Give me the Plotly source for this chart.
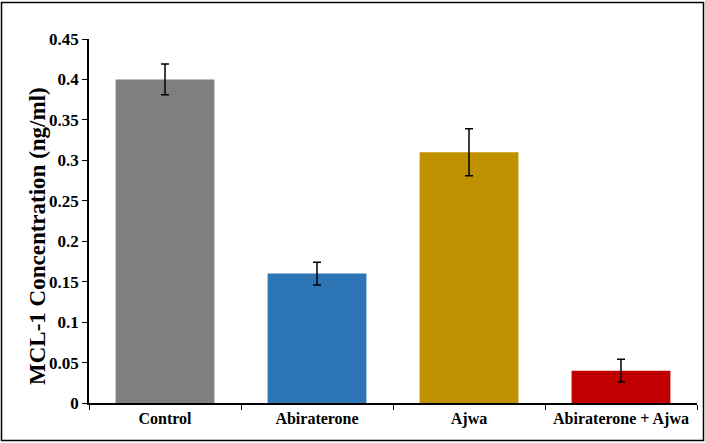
import plotly.graph_objects as go

categories = ["Control", "Abiraterone", "Ajwa", "Abiraterone + Ajwa"]
values = [0.40, 0.16, 0.31, 0.04]
errors = [0.019, 0.014, 0.029, 0.014]
colors = ["#7f7f7f", "#2e75b6", "#bf9000", "#c00000"]
y_title = "MCL-1 Concentration (ng/ml)"

L, R, T, B = 89, 8, 39, 40
W, H = 705, 443
pw, ph = W - L - R, H - T - B

fig = go.Figure(go.Bar(
    x=categories, y=values, marker=dict(color=colors, line=dict(width=0)),
    width=0.65,
    error_y=dict(type="data", array=errors, visible=True, color="black", thickness=1.5, width=4),
))

fig.update_layout(
    width=W, height=H, margin=dict(l=L, r=R, t=T, b=B),
    plot_bgcolor="white", paper_bgcolor="white", showlegend=False,
    font=dict(family="Liberation Serif", color="black"),
    xaxis=dict(type="category", showline=True, linecolor="black", linewidth=1.5,
               ticks="outside", tickson="boundaries", ticklen=5, tickcolor="black",
               tickfont=dict(family="Liberation Serif", size=16, color="black", weight="bold"),
               showgrid=False, zeroline=False),
    yaxis=dict(range=[0, 0.45], dtick=0.05, showline=True, linecolor="black", linewidth=1.5,
               ticks="outside", ticklen=5, tickcolor="black", showgrid=False, zeroline=False,
               tickfont=dict(family="Liberation Serif", size=17, color="black", weight="bold")),
)

fig.add_annotation(text=y_title, textangle=-90, xref="paper", yref="paper",
                   x=(37 - L) / pw, y=(T + ph - 236) / ph, xanchor="center", yanchor="middle",
                   showarrow=False,
                   font=dict(family="Liberation Serif", size=23, color="black", weight="bold"))

fig.add_shape(type="rect", xref="paper", yref="paper",
              x0=(1.5 - L) / pw, x1=(W - 1.5 - L) / pw,
              y0=-(H - 2.5 - (T + ph)) / ph, y1=(T + ph - 2.5) / ph,
              line=dict(color="black", width=1.5), fillcolor="rgba(0,0,0,0)", layer="above")

fig.write_html("out.html", config={"displayModeBar": False},
               post_script="document.body.style.margin='0';")
